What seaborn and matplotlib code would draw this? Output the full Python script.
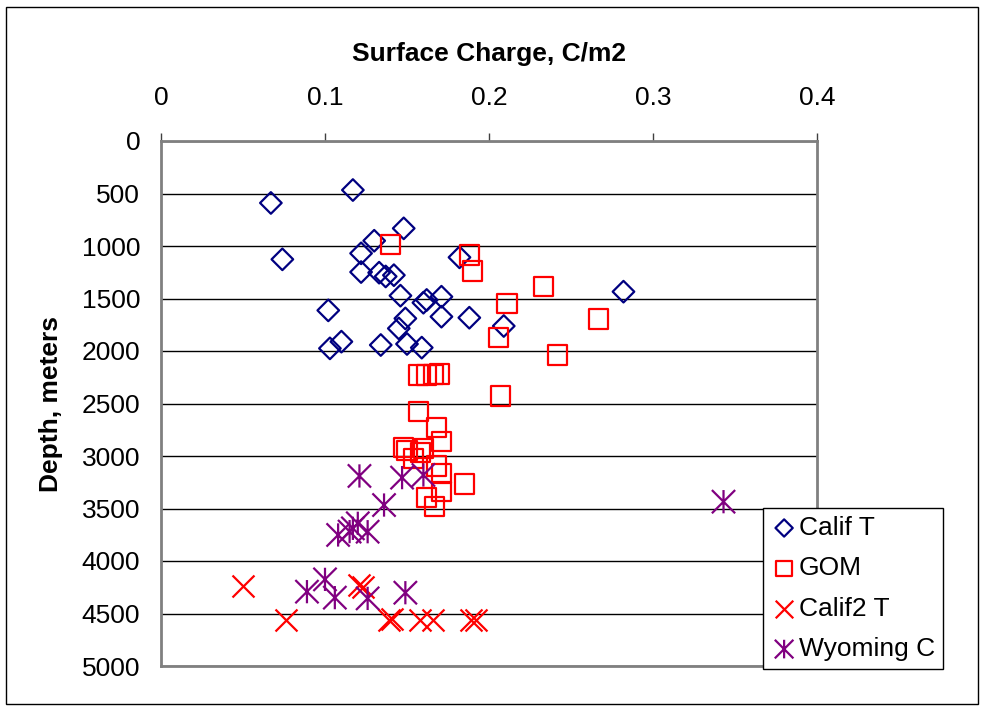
import numpy as np
import matplotlib.pyplot as plt
import seaborn as sns
from matplotlib.path import Path
from matplotlib.patches import Rectangle

# surface charge (C/m2) and depth (m) per data set
calif_x = [0.067, 0.117, 0.148, 0.130, 0.074, 0.122, 0.182, 0.122, 0.133, 0.137,
           0.142, 0.146, 0.160, 0.162, 0.171, 0.102, 0.149, 0.145, 0.171, 0.188,
           0.209, 0.110, 0.103, 0.134, 0.150, 0.159, 0.282]
calif_d = [590, 467, 832, 950, 1127, 1070, 1108, 1248, 1254, 1290,
           1278, 1473, 1540, 1514, 1483, 1613, 1690, 1785, 1673, 1683,
           1762, 1911, 1975, 1943, 1933, 1968, 1435]

gom_x = [0.140, 0.188, 0.190, 0.233, 0.211, 0.267, 0.206, 0.242, 0.157, 0.162,
         0.166, 0.170, 0.207, 0.157, 0.168, 0.171, 0.148, 0.150, 0.160, 0.158,
         0.154, 0.168, 0.171, 0.185, 0.171, 0.162, 0.167]
gom_d = [984, 1086, 1238, 1387, 1546, 1695, 1873, 2038, 2229, 2229,
         2220, 2219, 2429, 2578, 2730, 2863, 2921, 2950, 2927, 2965,
         3022, 3095, 3165, 3267, 3340, 3394, 3483]

calif2_x = [0.050, 0.076, 0.121, 0.123, 0.139, 0.141, 0.158, 0.166, 0.189, 0.192]
calif2_d = [4238, 4562, 4225, 4245, 4562, 4555, 4562, 4562, 4562, 4562]

wyo_x = [0.121, 0.147, 0.160, 0.136, 0.120, 0.117, 0.126, 0.108, 0.115, 0.343,
         0.089, 0.100, 0.106, 0.126, 0.149]
wyo_d = [3190, 3206, 3181, 3467, 3641, 3689, 3721, 3752, 3720, 3435,
         4292, 4175, 4349, 4356, 4302]

xticks = [0, 0.1, 0.2, 0.3, 0.4]
xtick_labels = ['0', '0.1', '0.2', '0.3', '0.4']
yticks = list(range(0, 5001, 500))

sns.set_style("white")
plt.rcParams['font.family'] = ['Liberation Sans', 'DejaVu Sans']
plt.rcParams['text.color'] = 'black'
plt.rcParams['axes.labelcolor'] = 'black'
plt.rcParams['xtick.color'] = 'black'
plt.rcParams['ytick.color'] = 'black'

# excel style asterisk: X plus a vertical bar
star = Path([(-1, -1), (1, 1), (-1, 1), (1, -1), (0, -1), (0, 1)],
            [Path.MOVETO, Path.LINETO, Path.MOVETO, Path.LINETO, Path.MOVETO, Path.LINETO])

fig = plt.figure(figsize=(9.85, 7.11), dpi=100)
ax = fig.add_axes([161 / 985, 1 - 666 / 711, 656 / 985, 525 / 711])

sns.scatterplot(x=calif_x, y=calif_d, marker='D', s=121, color='#000080', facecolor='none',
                edgecolor='#000080', linewidth=1.6, label='Calif T', ax=ax, zorder=3)
sns.scatterplot(x=gom_x, y=gom_d, marker='s', s=190, color='#FF0000', facecolor='none',
                edgecolor='#FF0000', linewidth=1.6, label='GOM', ax=ax, zorder=3)
sns.scatterplot(x=calif2_x, y=calif2_d, marker='x', s=250, color='#FF0000',
                linewidth=1.6, label='Calif2 T', ax=ax, zorder=3)
sns.scatterplot(x=wyo_x, y=wyo_d, marker=star, s=280, color='#800080', facecolor='none',
                edgecolor='#800080', linewidth=1.6, label='Wyoming C', ax=ax, zorder=3)

ax.set_xlim(0, 0.4)
ax.set_ylim(5000, 0)
ax.xaxis.tick_top()
ax.xaxis.set_label_position('top')
ax.set_xticks(xticks)
ax.set_xticklabels(xtick_labels)
ax.set_yticks(yticks)
ax.set_yticklabels([str(v) for v in yticks])
ax.tick_params(axis='x', direction='out', length=6, width=1, color='#404040',
               labelsize=19, labelcolor='black', pad=16)
ax.tick_params(axis='y', direction='out', length=6, width=1, color='#404040',
               labelsize=19, labelcolor='black', pad=9)
ax.yaxis.grid(True, color='black', linewidth=1)
ax.xaxis.grid(False)
for sp in ax.spines.values():
    sp.set_color('#808080')
    sp.set_linewidth(2)

ax.set_xlabel('Surface Charge, C/m2', fontsize=19, fontweight='bold', labelpad=18)
ax.set_ylabel('Depth, meters', fontsize=19, fontweight='bold', labelpad=13)

leg = ax.legend(loc='upper left', bbox_to_anchor=(763 / 985, 1 - 508 / 711),
                bbox_transform=fig.transFigure, fontsize=19, frameon=True, fancybox=False,
                edgecolor='black', framealpha=1, markerscale=0.8, handletextpad=0.05,
                handlelength=1.0, labelspacing=0.62, borderpad=0.3, borderaxespad=0)
leg.get_frame().set_linewidth(1)

fig.patches.append(Rectangle((6 / 985, 7 / 711), 972 / 985, 697 / 711, transform=fig.transFigure,
                             fill=False, edgecolor='black', linewidth=1))

fig.savefig('out.png', dpi=100, facecolor='white')
